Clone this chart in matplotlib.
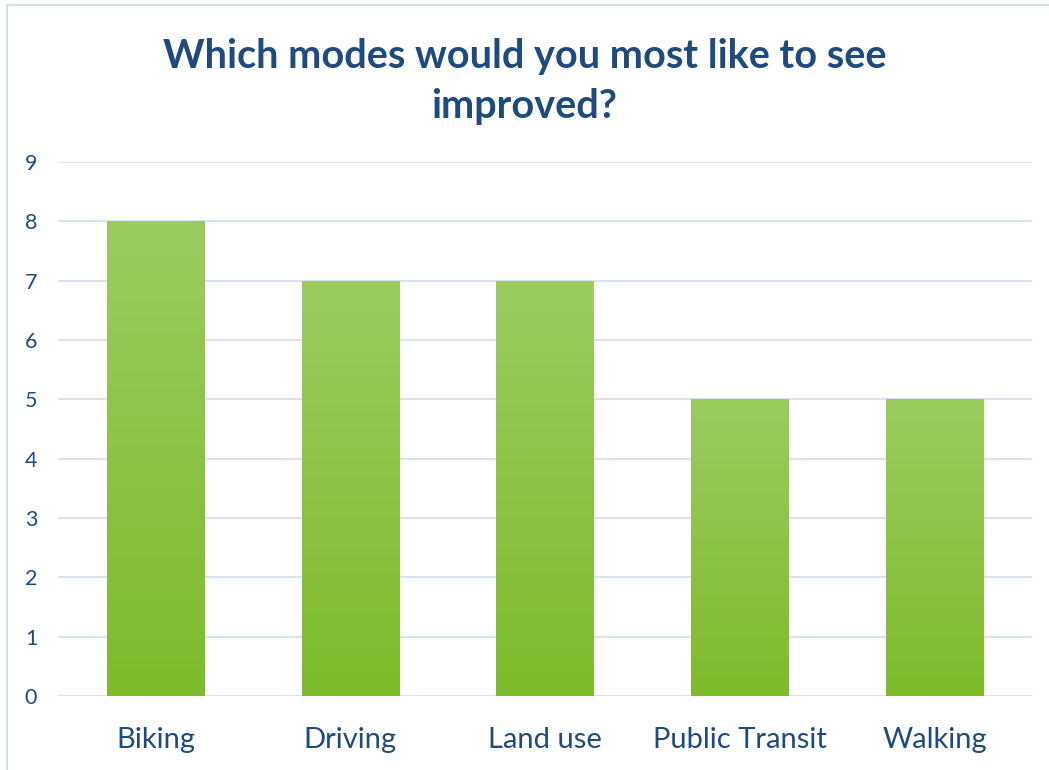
import matplotlib.pyplot as plt
import numpy as np
from matplotlib.patches import Rectangle
from matplotlib.colors import LinearSegmentedColormap

modes = ['Biking', 'Driving', 'Land use', 'Public Transit', 'Walking']
votes = [8, 7, 7, 5, 5]

plt.rcParams['font.family'] = ['Lato', 'DejaVu Sans']
text_color = '#1F4A7E'

fig = plt.figure(figsize=(10.49, 7.7), dpi=100)
ax = fig.add_axes([0.0553, 0.0961, 0.9285, 0.6935])

# outer frame of the chart area
fig.patches.append(Rectangle((7 / 1049, -0.1), 1.2, 1 - 5 / 770 + 0.1,
                             transform=fig.transFigure, fill=False,
                             edgecolor='#D6E1F0', linewidth=1.5))

index = np.arange(len(modes))
bars = ax.bar(index, votes, width=0.5, color='none', zorder=3)

# vertical green gradient, lighter at the top
grad = np.linspace(0, 1, 256).reshape(-1, 1)
cmap = LinearSegmentedColormap.from_list('g', ['#7DBB2A', '#9BCC60'])
for b in bars:
    x0, y0 = b.get_x(), b.get_y()
    im = ax.imshow(grad, cmap=cmap, origin='lower', aspect='auto',
                   extent=[x0, x0 + b.get_width(), y0, y0 + b.get_height()],
                   zorder=3)
    im.set_clip_path(b)

ax.set_xlim(-0.5, 4.5)
ax.set_ylim(0, 9)
ax.set_yticks(range(10))
ax.set_xticks(index)
ax.set_xticklabels(modes)
ax.yaxis.grid(True, color='#D9E3F1', linewidth=1.5, zorder=0)
ax.set_axisbelow(True)
for s in ax.spines.values():
    s.set_visible(False)
ax.tick_params(axis='both', length=0, colors=text_color)
ax.tick_params(axis='y', labelsize=15.5, pad=15)
ax.tick_params(axis='x', labelsize=21, pad=22)

fig.text(0.5, 0.894, 'Which modes would you most like to see\nimproved?',
         ha='center', va='center', fontsize=28.5, fontweight='bold',
         color=text_color, linespacing=1.42)

plt.savefig('out.png', dpi=100)
